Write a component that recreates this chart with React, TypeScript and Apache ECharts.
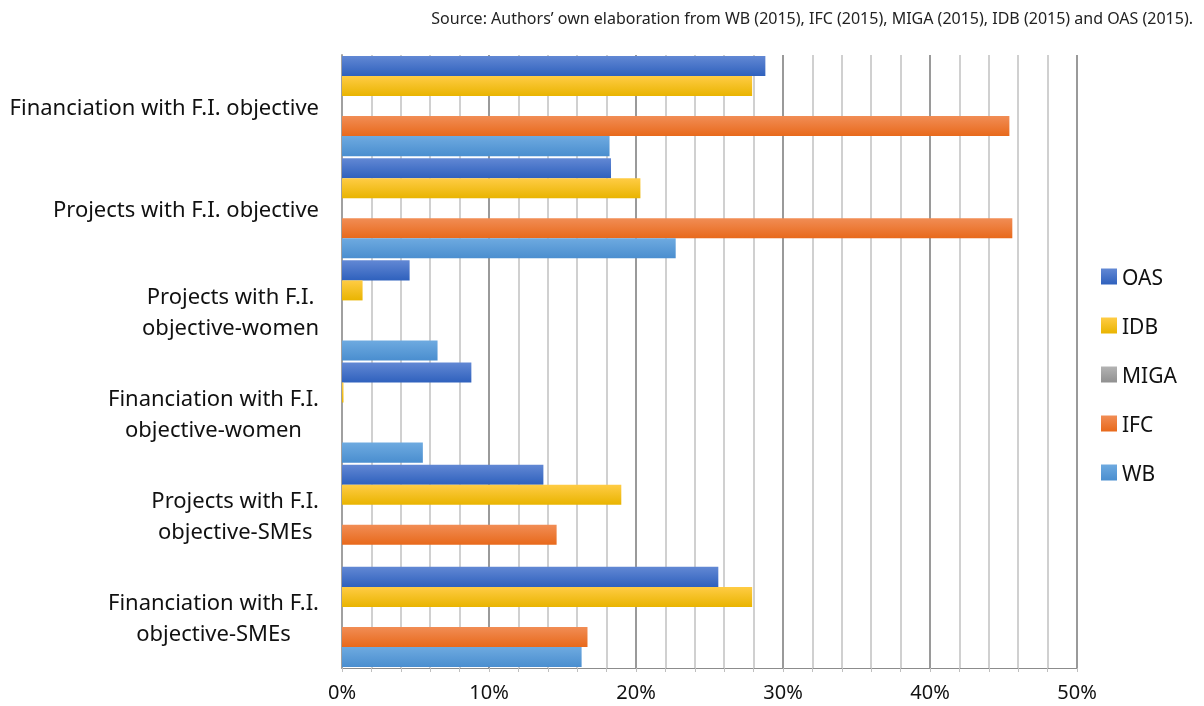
import React, { useEffect, useRef } from "react";
import * as echarts from "echarts";

const categories = [
  "Financiation with F.I.\nobjective-SMEs",
  "Projects with F.I.\nobjective-SMEs",
  "Financiation with F.I.\nobjective-women",
  "Projects with F.I.\nobjective-women",
  "Projects with F.I. objective",
  "Financiation with F.I. objective",
];

const wbValues = [16.3, 0, 5.5, 6.5, 22.7, 18.2];
const ifcValues = [16.7, 14.6, 0, 0, 45.6, 45.4];
const migaValues = [0, 0, 0, 0, 0, 0];
const idbValues = [27.9, 19.0, 0.1, 1.4, 20.3, 27.9];
const oasValues = [25.6, 13.7, 8.8, 4.6, 18.3, 28.8];

const legendOrder = ["OAS", "IDB", "MIGA", "IFC", "WB"];
const xTickLabels = ["0%", "10%", "20%", "30%", "40%", "50%"];

const sourceText =
  "Source: Authors’ own elaboration from WB (2015), IFC (2015), MIGA (2015), IDB (2015) and OAS (2015).";

const FONT = "'Noto Sans', sans-serif";

function grad(top: string, bottom: string) {
  return new echarts.graphic.LinearGradient(0, 0, 0, 1, [
    { offset: 0, color: top },
    { offset: 1, color: bottom },
  ]);
}

export default function App() {
  const ref = useRef<HTMLDivElement>(null);

  useEffect(() => {
    if (!ref.current) return;
    const chart = echarts.init(ref.current, undefined, { renderer: "svg" });

    const mkSeries = (name: string, data: number[], color: any) => ({
      name,
      type: "bar",
      data,
      barGap: "0%",
      barCategoryGap: "2%",
      itemStyle: { color },
    });

    chart.setOption({
      animation: false,
      title: {
        text: sourceText,
        right: 6,
        top: 5,
        textStyle: {
          fontFamily: FONT,
          fontSize: 16,
          fontWeight: "normal",
          color: "#222",
        },
      },
      legend: {
        orient: "vertical",
        left: 1096,
        top: 261,
        itemGap: 28,
        itemWidth: 16,
        itemHeight: 16,
        icon: "rect",
        data: legendOrder,
        textStyle: { fontFamily: FONT, fontSize: 21, color: "#111" },
      },
      grid: { left: 342, right: 127, top: 55, bottom: 38, containLabel: false },
      xAxis: {
        type: "value",
        min: 0,
        max: 50,
        interval: 2,
        axisLine: { show: true, lineStyle: { color: "#8c8c8c", width: 1 } },
        axisTick: { show: true, length: 4, lineStyle: { color: "#bfbfbf" } },
        axisLabel: {
          fontFamily: FONT,
          fontSize: 20,
          color: "#111",
          margin: 13,
          formatter: (v: number) =>
            v % 10 === 0 ? xTickLabels[v / 10] : "",
        },
        splitLine: {
          show: true,
          lineStyle: {
            color: ["#9a9a9a", "#d0d0d0", "#d0d0d0", "#d0d0d0", "#d0d0d0"],
            width: 2,
          },
        },
      },
      yAxis: {
        type: "category",
        data: categories,
        axisLine: { show: true, lineStyle: { color: "#a0a0a0", width: 2 } },
        axisTick: { show: false },
        axisLabel: {
          fontFamily: FONT,
          fontSize: 22,
          color: "#111",
          margin: 23,
          align: "right",
          lineHeight: 31,
          formatter: (v: string) =>
            v
              .split("\n")
              .map((s) => `{c|${s}}`)
              .join("\n"),
          rich: {
            c: {
              align: "center",
              fontFamily: FONT,
              fontSize: 22,
              color: "#111",
              lineHeight: 31,
            },
          },
        },
      },
      series: [
        mkSeries("OAS", oasValues, grad("#6288d4", "#2f61bd")),
        mkSeries("IDB", idbValues, grad("#ffcc45", "#e9b400")),
        mkSeries("MIGA", migaValues, grad("#b3b3b3", "#909090")),
        mkSeries("IFC", ifcValues, grad("#f18d55", "#e8691b")),
        mkSeries("WB", wbValues, grad("#6eaae0", "#4a8ecf")),
      ],
    });

    return () => chart.dispose();
  }, []);

  return (
    <div
      ref={ref}
      style={{ position: "fixed", left: 0, top: 0, width: 1204, height: 706 }}
    />
  );
}
